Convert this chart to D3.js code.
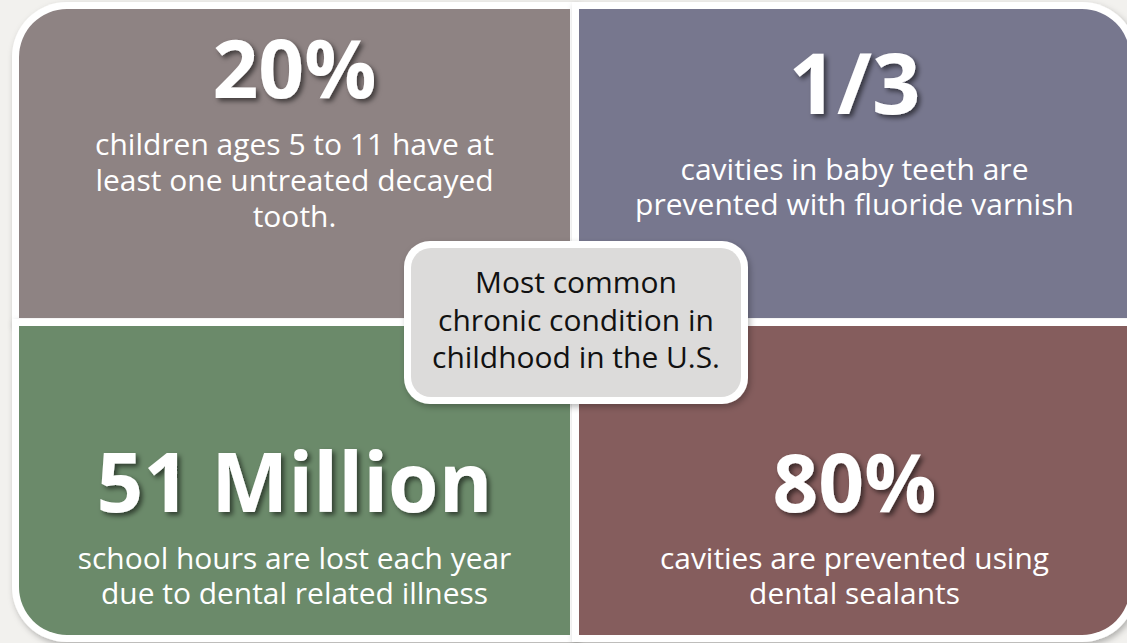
<!DOCTYPE html>
<html>
<head>
<meta charset="utf-8">
<script src="https://cdn.jsdelivr.net/npm/d3@7"></script>
<style>
  html, body { margin: 0; padding: 0; background: #f2f1ee; }
  svg { display: block; }
</style>
</head>
<body>
<svg id="chart" width="1127" height="643"></svg>
<script>
// quadrant content, read left-to-right, top-to-bottom
const headlines = ['20%', '1/3', '51 Million', '80%'];
const details = [
  ['children ages 5 to 11 have at', 'least one untreated decayed', 'tooth.'],
  ['cavities in baby teeth are', 'prevented with fluoride varnish'],
  ['school hours are lost each year', 'due to dental related illness'],
  ['cavities are prevented using', 'dental sealants']
];
const panelColors = ['#8e8383', '#77778e', '#6b8a6a', '#855d5d'];
const centerLines = ['Most common', 'chronic condition in', 'childhood in the U.S.'];

const FONT = '"Open Sans", Lato, sans-serif';
const svg = d3.select('#chart');
const defs = svg.append('defs');

const shadow = defs.append('filter').attr('id', 'matShadow')
  .attr('x', '-10%').attr('y', '-10%').attr('width', '120%').attr('height', '120%');
shadow.append('feDropShadow').attr('dx', 2).attr('dy', 3)
  .attr('stdDeviation', 3).attr('flood-color', '#000').attr('flood-opacity', 0.28);

const textShadow = defs.append('filter').attr('id', 'textShadow')
  .attr('x', '-20%').attr('y', '-20%').attr('width', '140%').attr('height', '140%');
textShadow.append('feDropShadow').attr('dx', 3).attr('dy', 3)
  .attr('stdDeviation', 2.5).attr('flood-color', '#000').attr('flood-opacity', 0.55);

const x = d3.scaleBand().domain([0, 1]).range([19, 1130]).paddingInner(9 / 560);
const y = d3.scaleBand().domain([0, 1]).range([9, 635]).paddingInner(8 / 317);

const quads = headlines.map((h, i) => ({
  col: i % 2, row: Math.floor(i / 2), headline: h, lines: details[i], color: panelColors[i]
}));

// rectangle with only one rounded corner (the outer one)
function panelPath(x0, y0, x1, y1, r, col, row) {
  const tl = col === 0 && row === 0 ? r : 0;
  const tr = col === 1 && row === 0 ? r : 0;
  const br = col === 1 && row === 1 ? r : 0;
  const bl = col === 0 && row === 1 ? r : 0;
  return `M${x0 + tl},${y0} H${x1 - tr} ` +
    (tr ? `A${tr},${tr} 0 0 1 ${x1},${y0 + tr} ` : '') +
    `V${y1 - br} ` + (br ? `A${br},${br} 0 0 1 ${x1 - br},${y1} ` : '') +
    `H${x0 + bl} ` + (bl ? `A${bl},${bl} 0 0 1 ${x0},${y1 - bl} ` : '') +
    `V${y0 + tl} ` + (tl ? `A${tl},${tl} 0 0 1 ${x0 + tl},${y0} ` : '') + 'Z';
}

// scale the font so the widest line of a block hits the measured width
function fitWidth(sel, target) {
  const base = parseFloat(sel.attr('font-size'));
  let widest = 0;
  sel.each(function () { widest = Math.max(widest, this.getComputedTextLength()); });
  if (widest > 0) sel.attr('font-size', base * target / widest);
}

const RADIUS = 48, MAT = 7;

svg.append('g').selectAll('path').data(quads).join('path')
  .attr('d', d => panelPath(x(d.col) - MAT, y(d.row) - MAT, x(d.col) + x.bandwidth() + MAT,
    y(d.row) + y.bandwidth() + MAT, RADIUS + MAT, d.col, d.row))
  .attr('fill', '#fff')
  .attr('filter', 'url(#matShadow)');

svg.append('g').selectAll('path').data(quads).join('path')
  .attr('d', d => panelPath(x(d.col), y(d.row), x(d.col) + x.bandwidth(),
    y(d.row) + y.bandwidth(), RADIUS, d.col, d.row))
  .attr('fill', d => d.color);

const headBase = [89, 105, 186, 186];
const lineBase = [[146, 182, 218], [171, 206], [243, 278], [243, 278]];
const headWidth = [164, 132, 396, 164];
const lineWidth = [399, 439, 434, 389];

const labels = svg.append('g').selectAll('g').data(quads).join('g')
  .attr('transform', d => `translate(${x(d.col) + x.bandwidth() / 2},${y(d.row)})`);

labels.each(function (d, i) {
  const g = d3.select(this);
  const head = g.append('text')
    .attr('text-anchor', 'middle')
    .attr('y', headBase[i])
    .attr('font-family', FONT)
    .attr('font-weight', 'bold')
    .attr('font-size', 80)
    .attr('fill', '#fff')
    .attr('filter', 'url(#textShadow)')
    .text(d.headline);
  fitWidth(head, headWidth[i]);

  const desc = g.selectAll('text.desc').data(d.lines).join('text')
    .attr('class', 'desc')
    .attr('text-anchor', 'middle')
    .attr('y', (t, j) => lineBase[i][j])
    .attr('font-family', FONT)
    .attr('font-size', 26)
    .attr('fill', '#fff')
    .text(t => t);
  fitWidth(desc, lineWidth[i]);
});

// centre callout
const cx0 = 411, cx1 = 741, cy0 = 248, cy1 = 397;
svg.append('rect')
  .attr('x', cx0 - MAT).attr('y', cy0 - MAT)
  .attr('width', cx1 - cx0 + 2 * MAT).attr('height', cy1 - cy0 + 2 * MAT)
  .attr('rx', 26).attr('fill', '#fff').attr('filter', 'url(#matShadow)');
svg.append('rect')
  .attr('x', cx0).attr('y', cy0)
  .attr('width', cx1 - cx0).attr('height', cy1 - cy0)
  .attr('rx', 20).attr('fill', '#dcdbda');

const centre = svg.append('g').selectAll('text').data(centerLines).join('text')
  .attr('x', (cx0 + cx1) / 2)
  .attr('y', (d, i) => 293 + i * 37.5)
  .attr('text-anchor', 'middle')
  .attr('font-family', FONT)
  .attr('font-size', 27)
  .attr('fill', '#111')
  .text(d => d);
fitWidth(centre.filter((d, i) => i === 1), 276);
centre.attr('font-size', centre.filter((d, i) => i === 1).attr('font-size'));
</script>
</body>
</html>
